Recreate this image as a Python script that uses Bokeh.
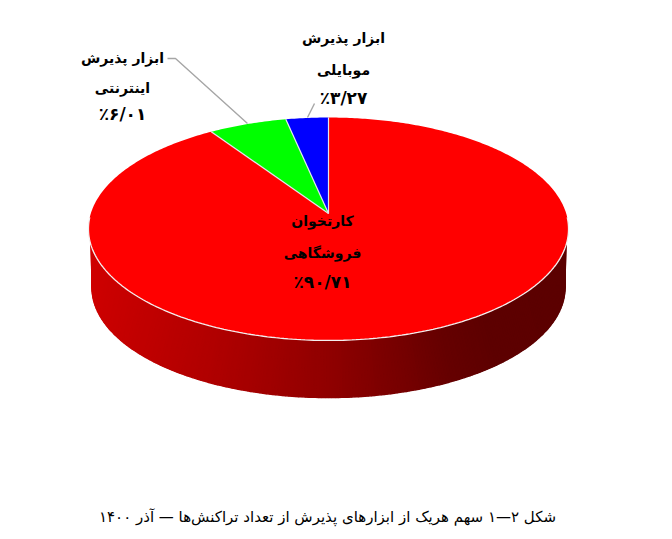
import numpy as np
from bokeh.plotting import figure
from bokeh.models import Range1d
from bokeh.core.properties import value
from bokeh.embed import file_html
from bokeh.resources import INLINE

# data
categories = [["کارتخوان", "فروشگاهی"], ["ابزار پذیرش", "اینترنتی"], ["ابزار پذیرش", "موبایلی"]]
shares = [90.71, 6.01, 3.27]
colors = ["#ff0000", "#00ff00", "#0000ff"]
caption = "شکل ۲—۱ سهم هریک از ابزارهای پذیرش از تعداد تراکنش‌ها — آذر ۱۴۰۰"

FONT = "DejaVu Sans"
CX, APEX_Y, A, B, K = 328.0, 213.0, 237.7, 109.3, 0.139
FLOOR_SCALE, FLOOR_Y = 0.985, 272.0


def project(t, scale=1.0, cy=APEX_Y):
    """Disc angle (clockwise from the far side) to page pixels, with perspective."""
    u, v = np.sin(t), np.cos(t)
    d = 1 + K * v
    return CX + scale * A * u / d, cy - scale * B * v / d


def fa_percent(x):
    digits = f"{x:.2f}".replace(".", "/")
    return "٪" + digits.translate(str.maketrans("0123456789", "۰۱۲۳۴۵۶۷۸۹"))


p = figure(width=660, height=535, output_backend="svg", toolbar_location=None,
           x_range=Range1d(0, 660), y_range=Range1d(535, 0), min_border=0)
p.axis.visible = False
p.grid.visible = False
p.outline_line_color = None
p.background_fill_color = "white"

# rim: strips between the top disc edge and the floor edge
tx, ty = project(np.radians(np.linspace(106, 254, 241)))
bx, by = project(np.radians(np.linspace(96, 264, 241)), FLOOR_SCALE, FLOOR_Y)
xs, ys, cols = [], [], []
for i in range(len(tx) - 1):
    xs.append([tx[i], tx[i + 1], bx[i + 1], bx[i]])
    ys.append([ty[i], ty[i + 1], by[i + 1], by[i]])
    mid = (tx[i] + tx[i + 1]) / 2
    r = np.interp(mid, [88, 220, 328, 440, 480, 568], [208, 176, 144, 102, 94, 92])
    cols.append("#%02x0000" % int(r))
p.patches(xs, ys, fill_color=cols, line_color=cols, line_width=1.5)

# top disc slices, laid out counter-clockwise from 12 o'clock, blue first
total = sum(shares)
start = 0.0
wedges = []
for share, col in zip(reversed(shares), reversed(colors)):
    end = start - 2 * np.pi * share / total
    wedges.append((start, end, col))
    start = end
for a0, a1, col in wedges:
    t = np.linspace(a0, a1, max(8, int(abs(a1 - a0) * 80)))
    x, y = project(t)
    p.patch(np.r_[CX, x], np.r_[APEX_Y, y], fill_color=col, line_color=None)

# slice separators
for a0, a1, col in wedges:
    x, y = project(np.array([a0]))
    p.line([CX, x[0]], [APEX_Y, y[0]], line_color="#e4e4f0", line_width=1.2)

# white highlight on the front edge of the disc
x, y = project(np.radians(np.linspace(92, 268, 200)))
p.line(x, y, line_color="#f4f0f0", line_width=1.3)

# leader lines
p.line([167, 175, 247], [58, 58, 123], line_color="#a6a6a6", line_width=1.4)
p.line([314, 307], [103, 117], line_color="#a6a6a6", line_width=1.4)

# labels
anchors = [(322, [220, 252, 281]), (122, [57, 87, 113]), (343, [37, 69, 97])]
for (cx, rows), names, share in zip(anchors, categories, shares):
    p.text([cx] * 2, rows[:2], text=names, text_font=value(FONT), text_font_style="bold",
           text_font_size="14px", text_align="center", text_baseline="middle",
           text_color="black")
    p.text([cx], rows[2:], text=[fa_percent(share)], text_font=value(FONT), text_font_style="bold",
           text_font_size="17px", text_align="center", text_baseline="middle",
           text_color="black")

p.text([327], [516], text=[caption], text_font=value(FONT), text_font_size="15px",
       text_align="center", text_baseline="middle", text_color="black")

open("out.html", "w").write(file_html(p, INLINE))
